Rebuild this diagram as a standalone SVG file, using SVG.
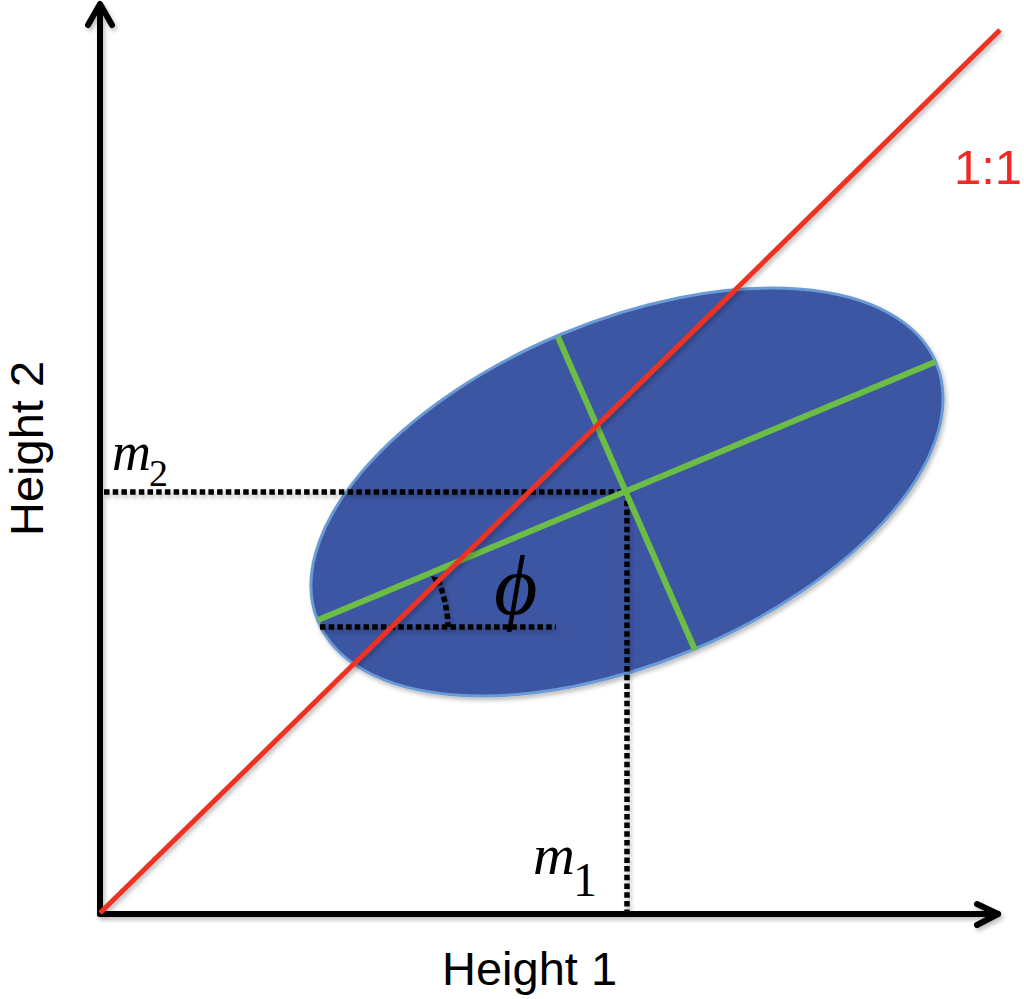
<svg xmlns="http://www.w3.org/2000/svg" width="1024" height="999" viewBox="0 0 1024 999">
<defs>
<filter id="sh" x="-10%" y="-10%" width="120%" height="120%">
<feDropShadow dx="2" dy="3" stdDeviation="2" flood-color="#000" flood-opacity="0.25"/>
</filter>
<style>
.axis{stroke:#000;stroke-width:6;fill:none;stroke-linecap:round;stroke-linejoin:round}
.dot{stroke:#000;stroke-width:5.5;fill:none;stroke-dasharray:5.5 3.2}
.green{stroke:#6CBD45;stroke-width:6;fill:none}
.red{stroke:#EE3124;stroke-width:5;fill:none}
.lbl{font-family:"Liberation Sans",Arial,sans-serif;font-size:47px;fill:#000}
.math{font-family:"Liberation Serif","Times New Roman",serif;font-style:italic;fill:#000}
.sub{font-family:"Liberation Serif","Times New Roman",serif;fill:#000}
</style>
</defs>
<rect width="1024" height="999" fill="#fff"/>
<g id="ellipse" filter="url(#sh)">
<ellipse cx="627" cy="492" rx="335" ry="171" transform="rotate(-22.7 627 492)" fill="#3C56A3" stroke="#6A9BD4" stroke-width="3"/>
</g>
<g id="connectors">
<g id="axes" filter="url(#sh)">
<line class="axis" x1="100" y1="914" x2="100" y2="5"/>
<polyline class="axis" points="88,25 100,4 112,25"/>
<line class="axis" x1="100" y1="914" x2="998" y2="914"/>
<polyline class="axis" points="977,904 998,914 977,925"/>
</g>
<g id="guides" filter="url(#sh)">
<line class="dot" x1="104" y1="492" x2="627" y2="492"/>
<line class="dot" x1="627" y1="492" x2="627" y2="911"/>
<line class="dot" x1="320" y1="627" x2="556" y2="627"/>
<path class="dot" d="M 438 580 A 128 128 0 0 1 448 627"/>
<polygon points="431,576 441,578 436,587" fill="#000"/>
</g>
<g id="major-axis"><line class="green" x1="318" y1="620" x2="935" y2="362"/></g>
<g id="minor-axis"><line class="green" x1="558" y1="337" x2="695" y2="650"/></g>
<g id="identity-line" filter="url(#sh)"><line class="red" x1="100" y1="913" x2="1000" y2="30"/></g>
</g>
<g id="labels">
<text class="lbl" x="442" y="985">Height 1</text>
<text class="lbl" transform="translate(43,536) rotate(-90)">Height 2</text>
<text x="954" y="184" font-family="'Liberation Sans',Arial,sans-serif" font-size="49" fill="#EE2A24">1:1</text>
<text class="math" x="112" y="470" font-size="54">m</text>
<text class="sub" x="149" y="486" font-size="38">2</text>
<text class="math" x="533" y="874" font-size="58">m</text>
<text class="sub" x="573" y="896" font-size="48">1</text>
<text class="math" x="494" y="614" font-size="84">ϕ</text>
</g>
</svg>
